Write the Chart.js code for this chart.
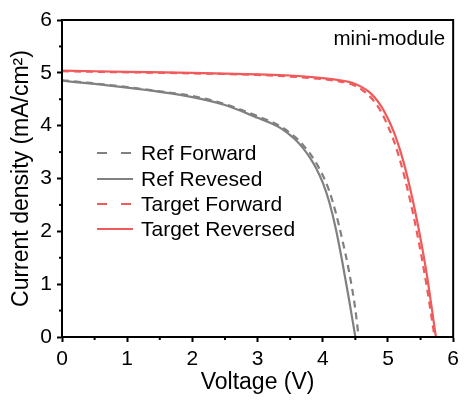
<!DOCTYPE html>
<html>
<head>
<meta charset="utf-8">
<script src="https://cdn.jsdelivr.net/npm/chart.js@4/dist/chart.umd.min.js"></script>
<style>
  html, body { margin: 0; padding: 0; background: #fff; }
  #wrap { width: 464px; height: 400px; }
</style>
</head>
<body>
<div id="wrap"><canvas id="grafico" width="464" height="400"></canvas></div>
<script>
// ====================================================================
// Datos J-V
// ====================================================================
const serieNombres = ['Ref Forward', 'Ref Revesed', 'Target Forward', 'Target Reversed'];

const refFwdV = [0, 0.5, 1.0, 1.5, 2.0, 2.5, 3.0, 3.2, 3.36, 3.5, 3.6, 3.7, 3.8, 3.9, 4.0, 4.1, 4.2, 4.3, 4.4, 4.5, 4.55];
const refFwdJ = [4.86, 4.80, 4.73, 4.65, 4.56, 4.41, 4.18, 4.08, 3.98, 3.86, 3.76, 3.63, 3.48, 3.29, 3.06, 2.76, 2.35, 1.84, 1.26, 0.52, 0];

const refRevV = [0, 0.5, 1.0, 1.5, 2.0, 2.5, 3.0, 3.2, 3.36, 3.5, 3.6, 3.7, 3.8, 3.9, 4.0, 4.1, 4.2, 4.3, 4.4, 4.5];
const refRevJ = [4.85, 4.79, 4.72, 4.64, 4.54, 4.39, 4.15, 4.05, 3.95, 3.82, 3.71, 3.57, 3.40, 3.19, 2.92, 2.55, 2.05, 1.42, 0.73, 0];

const tgtFwdV = [0, 1, 2, 3, 3.5, 4.0, 4.2, 4.4, 4.5, 4.6, 4.7, 4.8, 4.9, 5.0, 5.1, 5.2, 5.3, 5.4, 5.5, 5.6, 5.7, 5.715];
const tgtFwdJ = [5.03, 5.01, 4.99, 4.96, 4.93, 4.88, 4.85, 4.80, 4.75, 4.68, 4.58, 4.44, 4.25, 3.99, 3.68, 3.28, 2.80, 2.25, 1.62, 0.92, 0.12, 0];

const tgtRevV = [0, 1, 2, 3, 3.5, 4.0, 4.2, 4.4, 4.5, 4.6, 4.7, 4.8, 4.9, 5.0, 5.1, 5.2, 5.3, 5.4, 5.5, 5.6, 5.7, 5.735];
const tgtRevJ = [5.04, 5.02, 5.00, 4.97, 4.95, 4.90, 4.87, 4.83, 4.79, 4.73, 4.65, 4.53, 4.36, 4.13, 3.85, 3.48, 3.02, 2.48, 1.86, 1.15, 0.30, 0];

const ejeX = { min: 0, max: 6, paso: 1, menor: 0.5, titulo: 'Voltage (V)' };
const ejeY = { min: 0, max: 6, paso: 1, menor: 0.5, titulo: 'Current density (mA/cm\u00B2)' };
const etiqueta = 'mini-module';

const GRIS = '#808080';
const ROJO = '#f05a5a';
const FUENTE = "Arial, 'Liberation Sans', sans-serif";

// Convierte dos listas en puntos {x, y}
function puntos(vs, js) {
    return vs.map((v, i) => ({ x: v, y: js[i] }));
}

function serie(nombre, vs, js, color, guiones) {
    return {
        label: nombre,
        data: puntos(vs, js),
        borderColor: color,
        backgroundColor: color,
        borderWidth: 2.2,
        borderDash: guiones,
        pointRadius: 0,
        cubicInterpolationMode: 'monotone',
        fill: false
    };
}

// Marco, marcas menores, leyenda y rótulo
const pluginExtras = {
    id: 'extras',
    afterDraw(chart) {
        const ctx = chart.ctx;
        const area = chart.chartArea;
        const sx = chart.scales.x;
        const sy = chart.scales.y;
        ctx.save();

        // marco completo
        ctx.strokeStyle = '#000';
        ctx.lineWidth = 2;
        ctx.setLineDash([]);
        ctx.strokeRect(area.left, area.top, area.right - area.left, area.bottom - area.top);

        // marcas menores
        for (let v = ejeX.min + ejeX.menor; v < ejeX.max; v += ejeX.paso) {
            const px = sx.getPixelForValue(v);
            ctx.beginPath();
            ctx.moveTo(px, area.bottom);
            ctx.lineTo(px, area.bottom + 3);
            ctx.stroke();
        }
        for (let v = ejeY.min + ejeY.menor; v < ejeY.max; v += ejeY.paso) {
            const py = sy.getPixelForValue(v);
            ctx.beginPath();
            ctx.moveTo(area.left, py);
            ctx.lineTo(area.left - 3, py);
            ctx.stroke();
        }

        // leyenda
        const filas = [153, 179, 204, 229];
        chart.data.datasets.forEach((ds, i) => {
            const y = filas[i];
            ctx.strokeStyle = ds.borderColor;
            ctx.lineWidth = 2.2;
            ctx.setLineDash(ds.borderDash.length ? [10, 14] : []);
            ctx.beginPath();
            ctx.moveTo(97, y);
            ctx.lineTo(133, y);
            ctx.stroke();
            ctx.setLineDash([]);
            ctx.fillStyle = '#000';
            ctx.font = '21px ' + FUENTE;
            ctx.textAlign = 'left';
            ctx.textBaseline = 'middle';
            ctx.fillText(ds.label, 141, y + 1);
        });

        // rótulo
        ctx.fillStyle = '#000';
        ctx.font = '20.5px ' + FUENTE;
        ctx.textAlign = 'right';
        ctx.textBaseline = 'alphabetic';
        ctx.fillText(etiqueta, area.right - 8, 45);

        ctx.restore();
    }
};

function renderGraficoJV() {
    const ctx = document.getElementById('grafico').getContext('2d');

    return new Chart(ctx, {
        type: 'line',
        data: {
            datasets: [
                serie(serieNombres[0], refFwdV, refFwdJ, GRIS, [7, 5]),
                serie(serieNombres[1], refRevV, refRevJ, GRIS, []),
                serie(serieNombres[2], tgtFwdV, tgtFwdJ, ROJO, [7, 5]),
                serie(serieNombres[3], tgtRevV, tgtRevJ, ROJO, [])
            ]
        },
        options: {
            responsive: false,
            animation: false,
            layout: { padding: { top: 20, right: 7, left: 0, bottom: 0 } },
            plugins: {
                legend: { display: false },
                tooltip: { enabled: false }
            },
            scales: {
                x: {
                    type: 'linear',
                    min: ejeX.min,
                    max: ejeX.max,
                    afterFit: (escala) => { escala.height = 63; },
                    ticks: {
                        stepSize: ejeX.paso,
                        color: '#000',
                        padding: 5,
                        font: { size: 21, family: FUENTE },
                        maxRotation: 0
                    },
                    grid: {
                        drawOnChartArea: false,
                        drawTicks: true,
                        tickLength: 5,
                        tickWidth: 2,
                        tickColor: '#000'
                    },
                    border: { color: '#000', width: 2 },
                    title: {
                        display: true,
                        text: ejeX.titulo,
                        color: '#000',
                        font: { size: 23, family: FUENTE },
                        padding: { top: 0, bottom: 4 }
                    }
                },
                y: {
                    type: 'linear',
                    min: ejeY.min,
                    max: ejeY.max,
                    afterFit: (escala) => { escala.width = 62; },
                    ticks: {
                        stepSize: ejeY.paso,
                        color: '#000',
                        padding: 5,
                        font: { size: 21, family: FUENTE }
                    },
                    grid: {
                        drawOnChartArea: false,
                        drawTicks: true,
                        tickLength: 5,
                        tickWidth: 2,
                        tickColor: '#000'
                    },
                    border: { color: '#000', width: 2 },
                    title: {
                        display: true,
                        text: ejeY.titulo,
                        color: '#000',
                        font: { size: 23, family: FUENTE },
                        padding: { top: 8, bottom: 0 }
                    }
                }
            }
        },
        plugins: [pluginExtras]
    });
}

window.chartJV = renderGraficoJV();
</script>
</body>
</html>
